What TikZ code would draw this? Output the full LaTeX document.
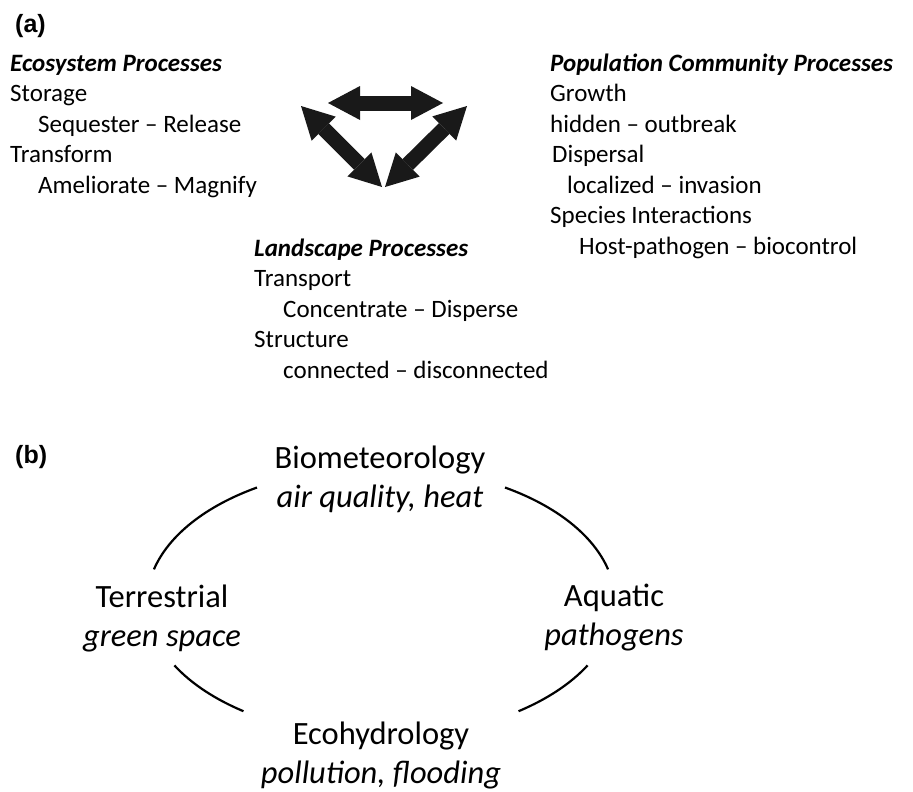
\documentclass[tikz,border=0pt]{standalone}
\usepackage{fontspec}
\setmainfont{Carlito}
\newfontfamily\labelfont{Liberation Sans}
\usetikzlibrary{arrows.meta}
\tikzstyle{block} = [anchor=base west, 
inner sep=0pt, 
align=left, 
font=\fontsize{25}{30.5}\selectfont]
\tikzstyle{theme} = [anchor=base, 
inner sep=0pt, 
align=center, 
font=\fontsize{32.5}{38.5}\selectfont]
\tikzstyle{panel} = [anchor=base west, 
inner sep=0pt, 
font=\labelfont\bfseries\fontsize{25}{30}\selectfont]
\tikzstyle{link} = [line width=15pt, draw=black!90,
{Triangle[length=32pt,width=34pt,line width=0pt]}-{Triangle[length=32pt,width=34pt,line width=0pt]}]
\tikzstyle{ring} = [line width=2.2pt]

\begin{document}
\begin{tikzpicture}[x=1pt, y=-1pt]
\useasboundingbox (0,0) rectangle (913,792);

\node (pa) [panel] at (15,33) {(a)};
\node (eco) [block] at (10,193) {\textbf{\textit{Ecosystem Processes}}\\
Storage\\
\hspace*{28pt}Sequester – Release\\
Transform\\
\hspace*{28pt}Ameliorate – Magnify};
\node (pop) [block] at (550,254) {\textbf{\textit{Population Community Processes}}\\
Growth\\
hidden – outbreak\\
\hspace*{2pt}Dispersal\\
\hspace*{17pt}localized – invasion\\
Species Interactions\\
\hspace*{29pt}Host-pathogen – biocontrol};
\node (land) [block] at (254,378) {\textbf{\textit{Landscape Processes}}\\
Transport\\
\hspace*{29pt}Concentrate – Disperse\\
Structure\\
\hspace*{29pt}connected – disconnected};

\coordinate (ep1) at (328,103);
\coordinate (ep2) at (443,103);
\coordinate (el1) at (301,106);
\coordinate (el2) at (382,187);
\coordinate (pl1) at (467,106);
\coordinate (pl2) at (385,187);
\draw [link] (ep1) -- (ep2);
\draw [link] (el1) -- (el2);
\draw [link] (pl1) -- (pl2);

\node (pb) [panel] at (15,463) {(b)};
\node (bio) [theme] at (380,507) {Biometeorology\\\textit{air quality, heat}};
\node (terr) [theme] at (162,646) {Terrestrial\\\textit{green space}};
\node (aqua) [theme] at (614,645) {Aquatic\\\textit{pathogens}};
\node (hydro) [theme] at (381,783) {Ecohydrology\\\textit{pollution, flooding}};

\coordinate (hub) at (381,602);
\draw [ring] ([shift={(194:234 and 135)}]hub) arc[start angle=194, end angle=238, x radius=234, y radius=135];
\draw [ring] ([shift={(302:234 and 135)}]hub) arc[start angle=302, end angle=346, x radius=234, y radius=135];
\draw [ring] ([shift={(28:234 and 135)}]hub) arc[start angle=28, end angle=54, x radius=234, y radius=135];
\draw [ring] ([shift={(126:234 and 135)}]hub) arc[start angle=126, end angle=152, x radius=234, y radius=135];
\end{tikzpicture}
\end{document}
